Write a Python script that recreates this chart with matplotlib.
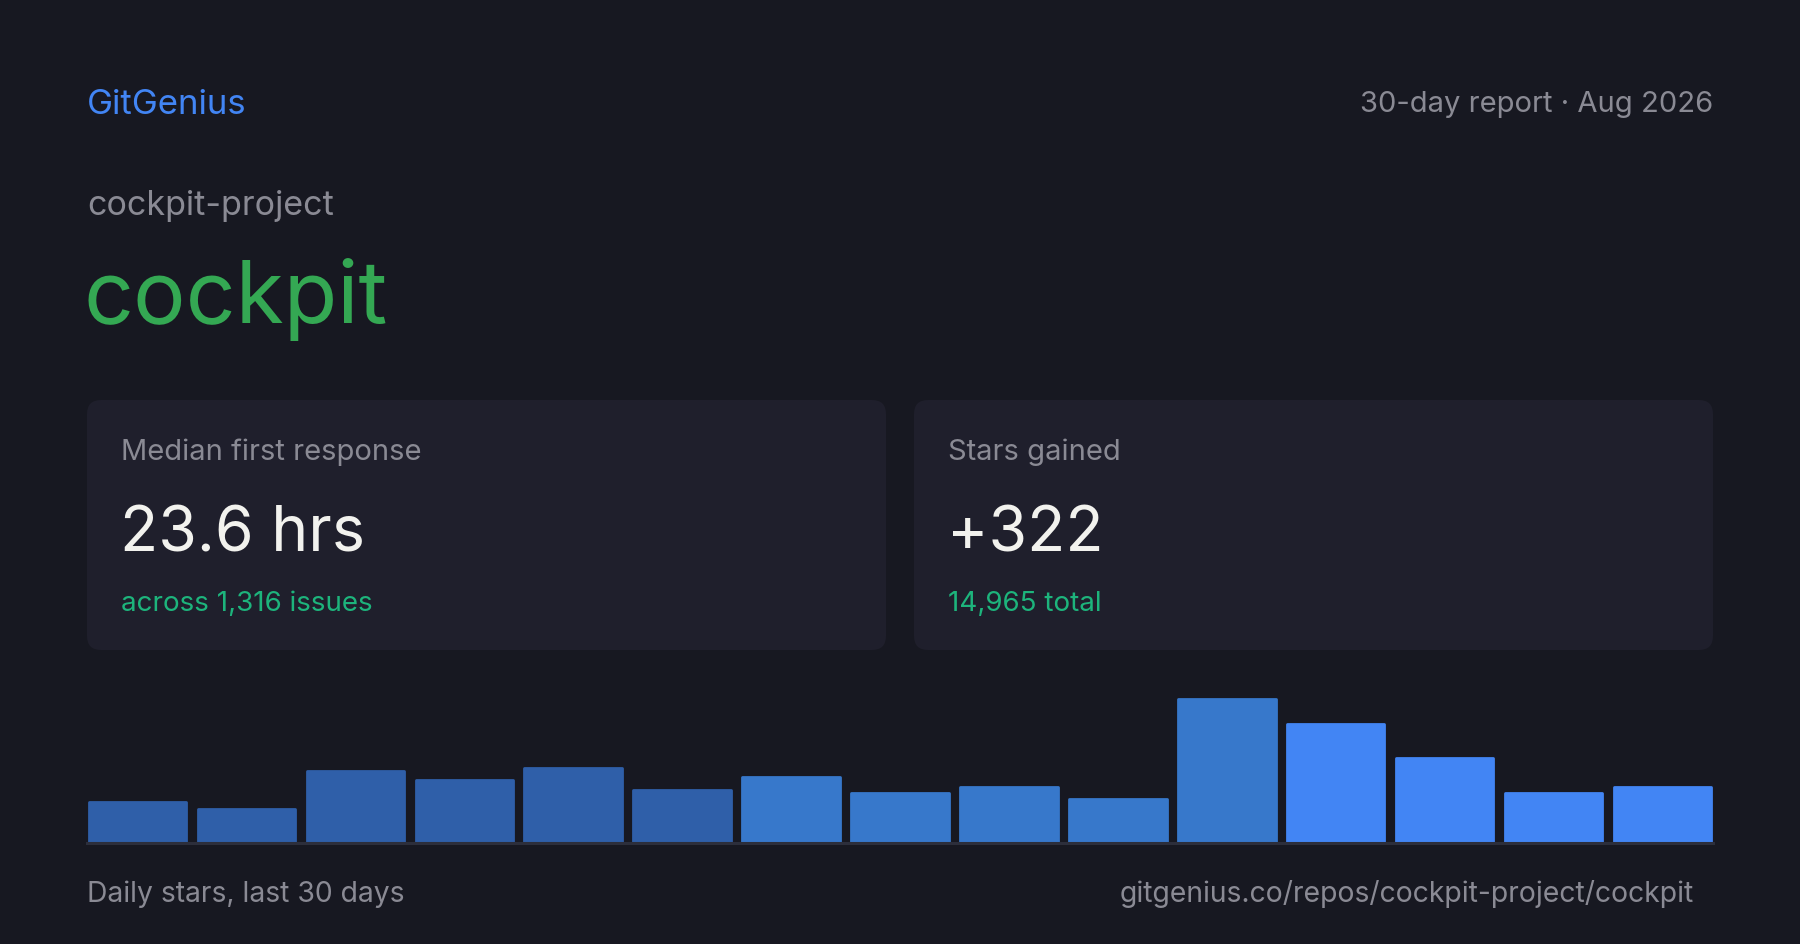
import matplotlib
matplotlib.use("Agg")
import matplotlib.pyplot as plt
from matplotlib.patches import FancyBboxPatch

plt.rcParams['font.family'] = ['Inter', 'DejaVu Sans']

days = list(range(1, 16))
daily_stars = [13, 11, 23, 20, 24, 17, 21, 16, 18, 14, 46, 38, 27, 16, 18]
cards = [
    ("Median first response", "23.6 hrs", "across 1,316 issues"),
    ("Stars gained", "+322", "14,965 total"),
]
brand = "GitGenius"
report = "30-day report \u00b7 Aug 2026"
owner = "cockpit-project"
repo = "cockpit"
footer_left = "Daily stars, last 30 days"
footer_right = "gitgenius.co/repos/cockpit-project/cockpit"

BG = "#171821"
CARD = "#1f1f2c"
GREY = "#8a8a94"
BLUE = "#4285f4"
GREEN = "#34a853"
TEAL = "#1db47c"
WHITE = "#f2f2ee"
shades = ["#2f5fa9"] * 6 + ["#3778cb"] * 5 + ["#4285f4"] * 4

W, H = 1800, 945
fig = plt.figure(figsize=(W / 100, H / 100), dpi=100, facecolor=BG)

# full-figure axes in pixel units for the text and cards
bg = fig.add_axes([0, 0, 1, 1])
bg.set_xlim(0, W)
bg.set_ylim(H, 0)
bg.axis("off")
bg.set_facecolor(BG)

bg.text(87, 114, brand, color=BLUE, fontsize=25, va="baseline", ha="left")
bg.text(1713, 112, report, color=GREY, fontsize=21, va="baseline", ha="right")
bg.text(87, 215, owner, color=GREY, fontsize=24.5, va="baseline", ha="left")
bg.text(84, 323, repo, color=GREEN, fontsize=63, va="baseline", ha="left")

card_x = [87, 914]
card_w = 799
for (label, value, sub), cx in zip(cards, card_x):
    box = FancyBboxPatch((cx, 401), card_w, 250,
                         boxstyle="round,pad=0,rounding_size=14",
                         facecolor=CARD, edgecolor="none")
    bg.add_patch(box)
    bg.text(cx + 34, 460, label, color=GREY, fontsize=21, va="baseline")
    bg.text(cx + 33, 551, value, color=WHITE, fontsize=45, va="baseline")
    bg.text(cx + 34, 611, sub, color=TEAL, fontsize=20, va="baseline")

bg.text(87, 902, footer_left, color=GREY, fontsize=20.4, va="baseline")
bg.text(1694, 902, footer_right, color=GREY, fontsize=20.4, va="baseline", ha="right")

# bar chart
base_y, top_y = 844, 700
ax = fig.add_axes([87 / W, (H - base_y) / H, (1713 - 87) / W, (base_y - top_y) / H])
ax.set_facecolor("none")
bars = ax.bar(days, daily_stars, width=0.895, color=shades, edgecolor=shades,
              linewidth=2, joinstyle="round")
ax.set_xlim(days[0] - 0.463, days[-1] + 0.463)
ax.set_ylim(0, max(daily_stars))
ax.axhline(0, color="#2c2e3b", lw=2.2, clip_on=False)
ax.axis("off")
for b in bars:
    b.set_clip_on(False)

fig.savefig("out.png", dpi=100, facecolor=BG)
